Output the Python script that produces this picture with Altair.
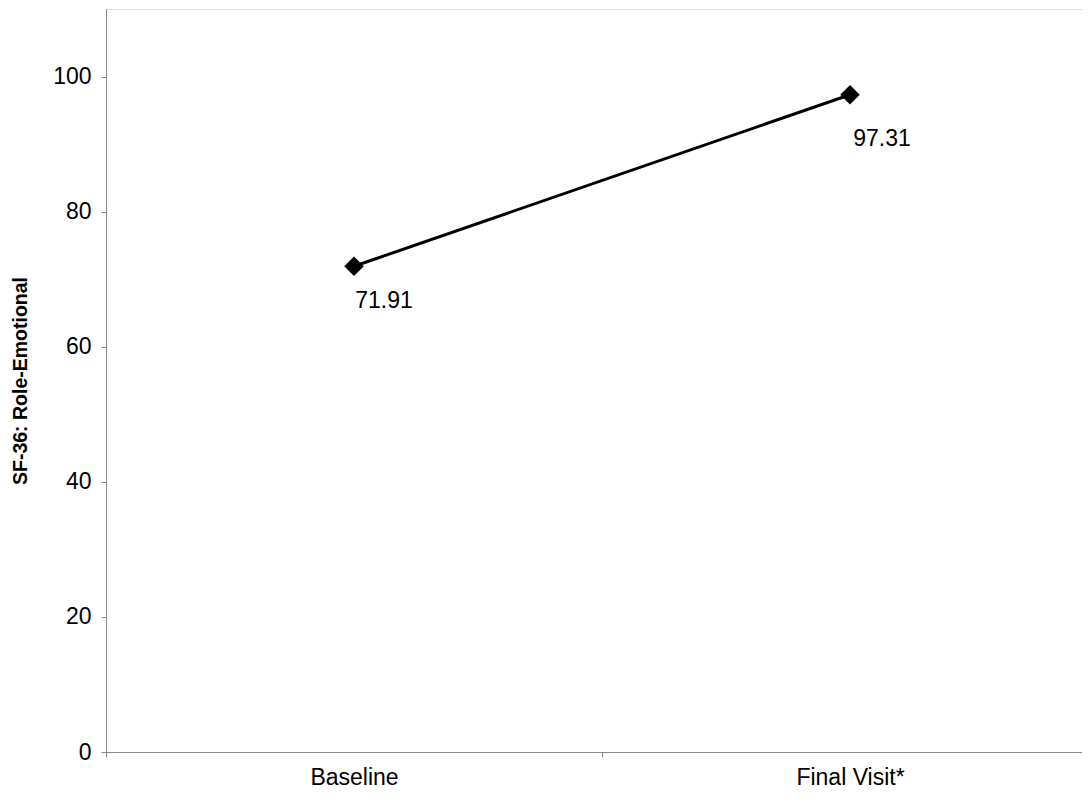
import altair as alt
import pandas as pd

categories = ["Baseline", "Final Visit*"]
values = [71.91, 97.31]
labels = ["71.91", "97.31"]

df = pd.DataFrame({"visit": categories, "score": values, "label": labels})

FONT = "Liberation Sans"

x_enc = alt.X(
    "visit:N",
    sort=categories,
    scale=alt.Scale(type="band", paddingInner=0, paddingOuter=0, range=[0, 992]),
    axis=alt.Axis(title=None, labelAngle=0, tickBand="extent", labelPadding=9,
                  labelFontSize=23, grid=False),
)
y_enc = alt.Y(
    "score:Q",
    scale=alt.Scale(domain=[0, 110], nice=False),
    axis=alt.Axis(title="SF-36: Role-Emotional", values=[0, 20, 40, 60, 80, 100],
                  titleFontWeight="bold", titleFontSize=19.5, titlePadding=22,
                  labelFontSize=23, labelPadding=10, grid=False),
)

base = alt.Chart(df).encode(x=x_enc, y=y_enc)

line = base.mark_line(color="black", strokeWidth=3)
pts = base.mark_point(shape="diamond", filled=True, color="black", size=380, opacity=1)
txt1 = base.transform_filter(alt.datum.visit == categories[0]).mark_text(
    font=FONT, fontSize=23, color="black", dx=30, dy=42, align="center",
    baseline="alphabetic").encode(text="label:N")
txt2 = base.transform_filter(alt.datum.visit == categories[1]).mark_text(
    font=FONT, fontSize=23, color="black", dx=32, dy=51, align="center",
    baseline="alphabetic").encode(text="label:N")

chart = (
    alt.layer(line, pts, txt1, txt2)
    .properties(width=976, height=743,
                autosize=alt.AutoSizeParams(type="none"),
                padding={"left": 98, "top": 1, "right": 0, "bottom": 43})
    .configure_view(stroke=None)
    .configure_axis(domainColor="black", domainWidth=2, tickColor="black", tickWidth=1.5,
                    tickSize=8, labelColor="black", titleColor="black",
                    labelFont=FONT, titleFont=FONT)
    .configure(background="white")
)

chart.save("out.html", embed_options={"renderer": "svg", "actions": False})
